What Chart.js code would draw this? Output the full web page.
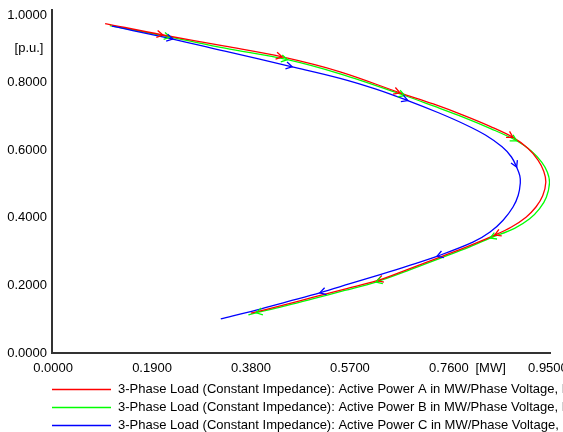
<!DOCTYPE html>
<html>
<head>
<meta charset="utf-8">
<script src="https://cdn.jsdelivr.net/npm/chart.js@4/dist/chart.umd.min.js"></script>
<style>
html,body{margin:0;padding:0;background:#fff;overflow:hidden;}
canvas{display:block;}
</style>
</head>
<body>
<canvas id="c" width="563" height="432"></canvas>
<script>
// ---- data ----
const seriesLabels = [
  "3-Phase Load (Constant Impedance): Active Power A in MW/Phase Voltage, Magnitude A in p.u.",
  "3-Phase Load (Constant Impedance): Active Power B in MW/Phase Voltage, Magnitude B in p.u.",
  "3-Phase Load (Constant Impedance): Active Power C in MW/Phase Voltage, Magnitude C in p.u."
];
const seriesColors = ["#ff0000", "#00ff00", "#0000ff"];

const powerA   = [0.100,0.211,0.330,0.440,0.551,0.666,0.730,0.787,0.840,0.883,0.912,0.931,0.942,0.946,0.940,0.927,0.908,0.880,0.848,0.800,0.743,0.680,0.622,0.560,0.500,0.440,0.380];
const voltageA = [0.975,0.941,0.908,0.876,0.832,0.770,0.737,0.704,0.670,0.638,0.605,0.571,0.538,0.506,0.465,0.432,0.402,0.373,0.349,0.318,0.284,0.247,0.214,0.189,0.165,0.141,0.118];
const arrowsA  = [1,3,5,9,18,22];

const powerB   = [0.109,0.225,0.330,0.450,0.551,0.675,0.730,0.787,0.840,0.890,0.918,0.938,0.949,0.953,0.947,0.934,0.915,0.886,0.839,0.800,0.743,0.680,0.620,0.560,0.500,0.440,0.390,0.375];
const voltageB = [0.969,0.935,0.902,0.868,0.826,0.762,0.731,0.698,0.664,0.628,0.598,0.565,0.535,0.504,0.461,0.427,0.397,0.369,0.340,0.314,0.280,0.243,0.210,0.185,0.161,0.137,0.119,0.113];
const arrowsB  = [1,3,5,9,18,22,26];

const powerC   = [0.113,0.230,0.330,0.459,0.551,0.620,0.681,0.740,0.790,0.830,0.862,0.880,0.890,0.896,0.897,0.893,0.883,0.864,0.839,0.806,0.737,0.680,0.628,0.570,0.512,0.450,0.390,0.322];
const voltageC = [0.967,0.929,0.893,0.847,0.813,0.781,0.747,0.711,0.677,0.645,0.610,0.580,0.550,0.525,0.503,0.467,0.432,0.393,0.358,0.328,0.286,0.257,0.232,0.205,0.178,0.152,0.127,0.101];
const arrowsC  = [1,3,6,12,20,24];

const xTickValues = [0, 0.19, 0.38, 0.57, 0.76, 0.95];
const yTickValues = [0, 0.2, 0.4, 0.6, 0.8, 1.0];
const xUnit = "[MW]";
const xUnitAt = 0.84;
const yUnit = "[p.u.]";
const yUnitAt = 0.9;

// ---- build ----
const FONT = "'Liberation Sans', Arial, sans-serif";
const powers = [powerA, powerB, powerC];
const voltages = [voltageA, voltageB, voltageC];
const arrows = [arrowsA, arrowsB, arrowsC];

const datasets = powers.map((P, s) => ({
  label: seriesLabels[s],
  data: P.map((p, i) => ({x: p, y: voltages[s][i]})),
  borderColor: seriesColors[s],
  backgroundColor: seriesColors[s],
  borderWidth: 1.3,
  pointRadius: 0,
  showLine: true,
  tension: 0.35,
  fill: false,
  order: [2, 3, 1][s],
  arrowIdx: arrows[s]
}));

const arrowPlugin = {
  id: 'arrows',
  afterDatasetsDraw(chart) {
    const ctx = chart.ctx;
    const xs = chart.scales.x, ys = chart.scales.y;
    chart.data.datasets.forEach(ds => {
      const pts = ds.data.map(d => [xs.getPixelForValue(d.x), ys.getPixelForValue(d.y)]);
      ctx.save();
      ctx.strokeStyle = ds.borderColor;
      ctx.lineWidth = 1.3;
      ds.arrowIdx.forEach(i => {
        const a = pts[Math.max(0, i - 1)], b = pts[Math.min(pts.length - 1, i + 1)];
        const ang = Math.atan2(b[1] - a[1], b[0] - a[0]);
        const [tx, ty] = pts[i];
        const L = 7, w = Math.PI / 6;
        ctx.beginPath();
        ctx.moveTo(tx - L * Math.cos(ang - w), ty - L * Math.sin(ang - w));
        ctx.lineTo(tx, ty);
        ctx.lineTo(tx - L * Math.cos(ang + w), ty - L * Math.sin(ang + w));
        ctx.stroke();
      });
      ctx.restore();
    });
  }
};

const extrasPlugin = {
  id: 'extras',
  afterDraw(chart) {
    const ctx = chart.ctx;
    const ca = chart.chartArea;
    ctx.save();
    ctx.font = "13px " + FONT;
    ctx.fillStyle = "#000";
    // y unit label
    ctx.textAlign = "center";
    ctx.textBaseline = "middle";
    ctx.fillText(yUnit, 29, chart.scales.y.getPixelForValue(yUnitAt));
    // legend
    ctx.textAlign = "left";
    chart.data.datasets.forEach((ds, i) => {
      const y = Math.round(ca.bottom + 36 + 18 * i) + 0.5;
      ctx.strokeStyle = ds.borderColor;
      ctx.lineWidth = 1.3;
      ctx.beginPath();
      ctx.moveTo(ca.left, y);
      ctx.lineTo(ca.left + 59, y);
      ctx.stroke();
      ctx.fillText(ds.label, ca.left + 66, y);
    });
    ctx.restore();
  }
};

new Chart(document.getElementById('c'), {
  type: 'scatter',
  data: {datasets},
  options: {
    responsive: false,
    devicePixelRatio: 1,
    animation: false,
    layout: {autoPadding: false, padding: {top: 10, right: 13, left: 0, bottom: 0}},
    plugins: {legend: {display: false}, tooltip: {enabled: false}},
    scales: {
      x: {
        type: 'linear',
        min: -0.002, max: 0.954,
        grid: {display: false, drawTicks: false},
        border: {display: true, color: '#333', width: 2},
        afterBuildTicks(s) { s.ticks = xTickValues.map(v => ({value: v})).concat([{value: xUnitAt}]); },
        afterFit(s) { s.height = 79; s.paddingLeft = 0; s.paddingRight = 0; },
        ticks: {
          autoSkip: false, maxRotation: 0, padding: 8, color: '#000',
          font: {family: FONT, size: 13},
          callback(v) { return Math.abs(v - xUnitAt) < 1e-9 ? xUnit : v.toFixed(4); }
        }
      },
      y: {
        type: 'linear',
        min: 0, max: 1.015,
        grid: {display: false, drawTicks: false},
        border: {display: true, color: '#333', width: 2},
        afterBuildTicks(s) { s.ticks = yTickValues.map(v => ({value: v})); },
        afterFit(s) { s.width = 52; s.paddingTop = 0; s.paddingBottom = 0; },
        ticks: {
          autoSkip: false, padding: 5, color: '#000',
          font: {family: FONT, size: 13},
          callback(v) { return v.toFixed(4); }
        }
      }
    }
  },
  plugins: [arrowPlugin, extrasPlugin]
});
</script>
</body>
</html>
